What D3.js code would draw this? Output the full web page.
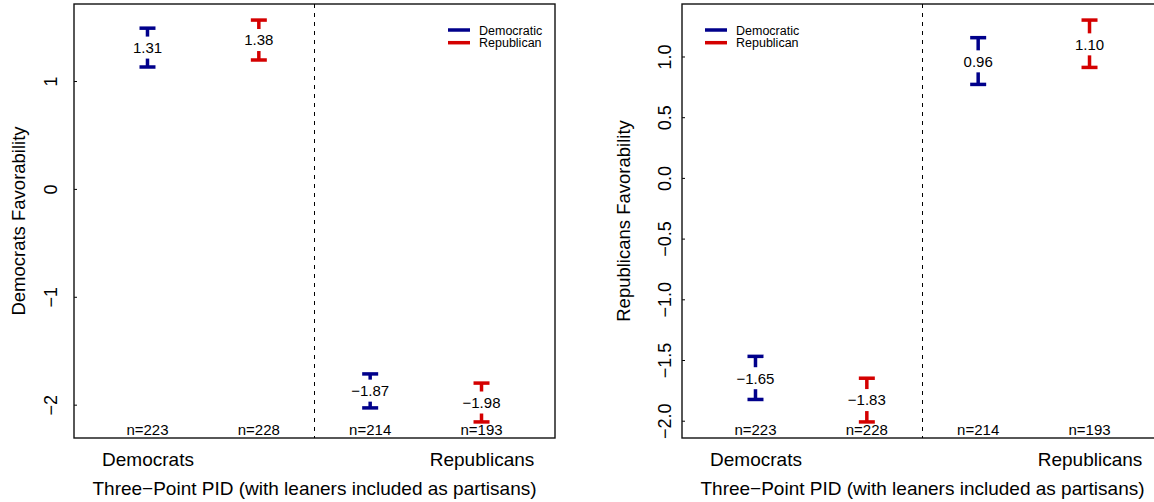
<!DOCTYPE html>
<html><head><meta charset="utf-8">
<script src="https://cdn.jsdelivr.net/npm/d3@7"></script>
<style>body{margin:0;background:#fff;} svg{display:block;font-family:"Liberation Sans",Arial,sans-serif;}</style>
</head><body><svg id="chart" width="1154" height="502"></svg>
<script>
// ---- data ----
const groups = ["Democrats", "Republicans"];
const groupPos = [1, 4];
const seriesNames = ["Democratic", "Republican"];
const seriesColors = ["#00008B", "#D40000"];
const pointPos = [1, 2, 3, 4];
const pointSeries = [0, 1, 0, 1];
const nLabels = ["n=223", "n=228", "n=214", "n=193"];

const demMean  = [1.31, 1.38, -1.87, -1.98];
const demLower = [1.13, 1.195, -2.03, -2.16];
const demUpper = [1.49, 1.565, -1.715, -1.80];

const repMean  = [-1.65, -1.83, 0.96, 1.10];
const repLower = [-1.825, -2.01, 0.77, 0.91];
const repUpper = [-1.47, -1.65, 1.155, 1.30];

const demTicks = [-2, -1, 0, 1];
const repTicks = [-2, -1.5, -1, -0.5, 0, 0.5, 1];

const xTitle = "Three\u2212Point PID (with leaners included as partisans)";

// ---- layout ----
const svg = d3.select("#chart");
const panels = [
  {left: 74, right: 555, title: "Democrats Favorability", mean: demMean, lower: demLower, upper: demUpper,
   ticks: demTicks, fmt: d3.format("d"), tickOff: -17, titleX: 25, legX: 448},
  {left: 682, right: 1163, title: "Republicans Favorability", mean: repMean, lower: repLower, upper: repUpper,
   ticks: repTicks, fmt: d3.format(".1f"), tickOff: -11, titleX: 630, legX: 705}
];
const plotTop = 4, plotBottom = 438;
const minus = s => s.replace("-", "\u2212");
const FF = '"Liberation Sans",Arial,sans-serif';

panels.forEach(p => {
  const g = svg.append("g");
  const xs = d3.scaleLinear().domain([0.5 - 0.16, 4.5 + 0.16]).range([p.left, p.right]);
  const lo = d3.min(p.lower), hi = d3.max(p.upper), ext = (hi - lo) * 0.04;
  const ys = d3.scaleLinear().domain([lo - ext, hi + ext]).range([plotBottom, plotTop]);

  // y axis
  const ax = g.append("g").attr("transform", `translate(${p.left},0)`)
    .call(d3.axisLeft(ys).tickValues(p.ticks).tickSize(-3).tickFormat(d => minus(p.fmt(d))));
  ax.select(".domain").remove();
  ax.selectAll(".tick line").attr("stroke", "#000");
  ax.selectAll(".tick text").attr("x", null).attr("dy", null).attr("y", null)
    .attr("transform", `translate(${p.tickOff},0) rotate(-90)`)
    .attr("text-anchor", "middle").attr("font-size", 18).attr("fill", "#000")
    .attr("font-family", FF);

  // x axis labels (no line)
  const xa = g.append("g").attr("transform", `translate(0,${plotBottom})`)
    .call(d3.axisBottom(xs).tickValues(groupPos).tickSize(0).tickFormat((d, i) => groups[i]));
  xa.select(".domain").remove();
  xa.selectAll(".tick text").attr("dy", null).attr("y", 28).attr("font-size", 19).attr("fill", "#000")
    .attr("font-family", FF);

  // box
  g.append("rect").attr("x", p.left).attr("y", plotTop).attr("width", p.right - p.left).attr("height", plotBottom - plotTop)
    .attr("fill", "none").attr("stroke", "#111").attr("stroke-width", 1.4);

  // titles
  g.append("text").attr("x", (p.left + p.right) / 2).attr("y", 495).attr("text-anchor", "middle")
    .attr("font-size", 19).text(xTitle);
  g.append("text").attr("transform", `translate(${p.titleX},${(plotTop + plotBottom) / 2}) rotate(-90)`)
    .attr("text-anchor", "middle").attr("font-size", 18.5).text(p.title);

  // dashed separator
  g.append("line").attr("x1", xs(2.5)).attr("x2", xs(2.5)).attr("y1", plotTop).attr("y2", plotBottom)
    .attr("stroke", "#000").attr("stroke-dasharray", "4,5").attr("stroke-width", 1);

  // n labels
  g.selectAll(".n").data(nLabels).join("text").attr("x", (d, i) => xs(pointPos[i])).attr("y", 435)
    .attr("text-anchor", "middle").attr("font-size", 15).text(d => d);

  // error bars
  const capW = 8;
  pointPos.forEach((pos, i) => {
    const c = seriesColors[pointSeries[i]], x = xs(pos);
    g.append("line").attr("x1", x).attr("x2", x).attr("y1", ys(p.upper[i])).attr("y2", ys(p.lower[i]))
      .attr("stroke", c).attr("stroke-width", 3.5);
    [p.upper[i], p.lower[i]].forEach(v => {
      g.append("line").attr("x1", x - capW).attr("x2", x + capW).attr("y1", ys(v)).attr("y2", ys(v))
        .attr("stroke", c).attr("stroke-width", 3.5);
    });
    const t = g.append("text").attr("x", x).attr("y", ys(p.mean[i])).attr("dy", "0.36em")
      .attr("text-anchor", "middle").attr("font-size", 15).text(minus(p.mean[i].toFixed(2)));
    const w = t.node().getComputedTextLength();
    g.insert("rect", () => t.node()).attr("x", x - w / 2 - 1).attr("y", ys(p.mean[i]) - 11)
      .attr("width", w + 2).attr("height", 22).attr("fill", "#fff");
  });

  // legend
  seriesNames.forEach((s, i) => {
    const ly = 30 + i * 12.7;
    g.append("line").attr("x1", p.legX).attr("x2", p.legX + 22).attr("y1", ly).attr("y2", ly)
      .attr("stroke", seriesColors[i]).attr("stroke-width", 3.5);
    g.append("text").attr("x", p.legX + 31).attr("y", ly).attr("dy", "0.36em").attr("font-size", 12.5).text(s);
  });
});
</script></body></html>
